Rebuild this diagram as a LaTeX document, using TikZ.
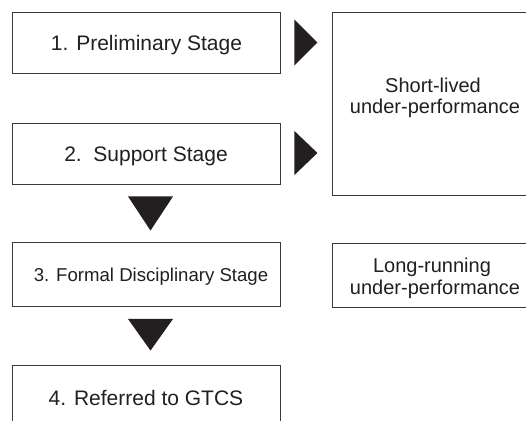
\documentclass[tikz,border=0pt]{standalone}
\usepackage{fontspec}
\setmainfont{Liberation Sans}
\usetikzlibrary{calc}
\definecolor{ink}{HTML}{231F20}
\definecolor{edge}{HTML}{3A3A3A}
\tikzset{
  boxline/.style={draw=edge, line width=0.9pt, fill=white, inner sep=0pt},
  stagebox/.style={boxline, minimum width=268pt, text=ink, font=\fontsize{21}{24}\selectfont, text height=15pt, text depth=0pt},
  sidebox/.style={boxline, minimum width=202pt},
  sidetext/.style={text=ink, font=\fontsize{20}{22}\selectfont, anchor=base, inner sep=0pt},
  tri/.style={fill=ink, draw=none}
}
\begin{document}
\begin{tikzpicture}[x=1pt,y=-1pt]
\useasboundingbox (0,0) rectangle (526,420);
\clip (0,0) rectangle (526,420);
\fill[white] (0,0) rectangle (526,420);
\node[stagebox, minimum height=61pt] (b1) at (146,42.5) {\hspace*{1pt}1. Preliminary Stage};
\node[stagebox, minimum height=61pt] (b2) at (146,153.5) {2.\ \ Support Stage};
\node[stagebox, minimum height=64pt, font=\fontsize{18.6}{22}\selectfont, text height=13.3pt] (b3) at (146,274.5) {\hspace*{10pt}3. Formal Disciplinary Stage};
\node[stagebox, minimum height=66pt] (b4) at (146,398) {4. Referred to GTCS};
\node[sidebox, minimum height=183pt] (s) at (433,103.5) {};
\node[sidetext] (s1) at (433,92) {Short-lived};
\node[sidetext] (s2) at (435,113.3) {under-performance};
\node[sidebox, minimum height=64pt] (l) at (433,275) {};
\node[sidetext] (l1) at (432,272.7) {Long-running};
\node[sidetext] (l2) at (435,294) {under-performance};
% right-pointing heads
\fill[tri] ($(b1.east)+(14,-23)$) -- ($(b1.east)+(37,0)$) -- ($(b1.east)+(14,23)$) -- cycle;
\fill[tri] ($(b2.east)+(14,-22.5)$) -- ($(b2.east)+(37,-0.5)$) -- ($(b2.east)+(14,21.5)$) -- cycle;
% down-pointing heads
\fill[tri] ($(b2.south)+(-18,12)$) -- ($(b2.south)+(27,12)$) -- ($(b3.north)+(4.5,-11.5)$) -- cycle;
\fill[tri] ($(b3.south)+(-18,12)$) -- ($(b3.south)+(27,12)$) -- ($(b4.north)+(4.5,-14)$) -- cycle;
\end{tikzpicture}
\end{document}
